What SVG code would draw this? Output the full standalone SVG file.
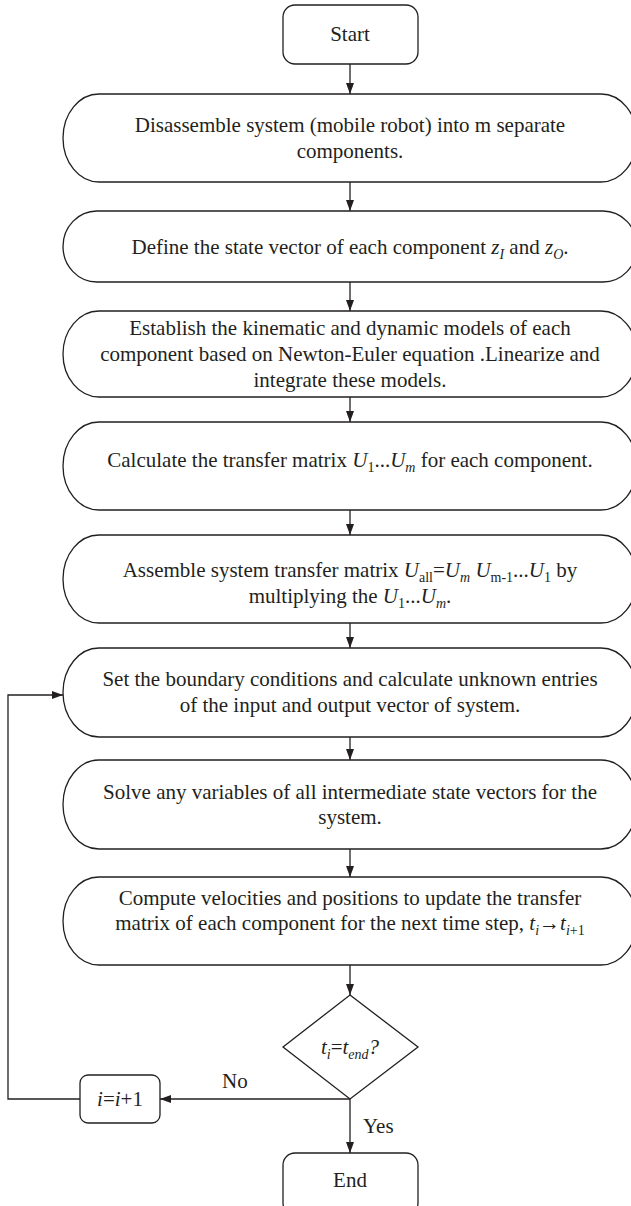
<svg xmlns="http://www.w3.org/2000/svg" width="631" height="1206" viewBox="0 0 631 1206">
<defs>
<style>
.box{fill:#fff;stroke:#231f20;stroke-width:1.3}
.ln{fill:none;stroke:#231f20;stroke-width:1.3}
text{font-family:"Liberation Serif","Times New Roman",serif;font-size:21px;fill:#231f20;text-anchor:middle}
.it{font-style:italic}
.sb{font-size:14px}
.st{text-anchor:start}
</style>
<marker id="ah" markerUnits="userSpaceOnUse" markerWidth="12" markerHeight="8" refX="11" refY="4" orient="auto">
<path d="M0,0 L11,4 L0,8 z" fill="#231f20"/>
</marker>
</defs>
<rect width="631" height="1206" fill="#fff"/>

<g id="connectors">
<line class="ln" x1="350" y1="64" x2="350" y2="94" marker-end="url(#ah)"/>
<line class="ln" x1="350" y1="182" x2="350" y2="211" marker-end="url(#ah)"/>
<line class="ln" x1="350" y1="282" x2="350" y2="311" marker-end="url(#ah)"/>
<line class="ln" x1="350" y1="397" x2="350" y2="422" marker-end="url(#ah)"/>
<line class="ln" x1="350" y1="510" x2="350" y2="535" marker-end="url(#ah)"/>
<line class="ln" x1="350" y1="623" x2="350" y2="648" marker-end="url(#ah)"/>
<line class="ln" x1="350" y1="737" x2="350" y2="760" marker-end="url(#ah)"/>
<line class="ln" x1="350" y1="849" x2="350" y2="877" marker-end="url(#ah)"/>
<line class="ln" x1="350" y1="965" x2="350" y2="995" marker-end="url(#ah)"/>
<line class="ln" x1="350" y1="1099" x2="350" y2="1153" marker-end="url(#ah)"/>
<line class="ln" x1="350" y1="1099" x2="160" y2="1099" marker-end="url(#ah)"/>
<polyline class="ln" points="80,1099 8,1099 8,695 63,695" marker-end="url(#ah)"/>
<text class="st" x="222" y="1088">No</text>
<text class="st" x="363" y="1133">Yes</text>
</g>

<g id="start">
<rect class="box" x="283" y="5" width="135" height="59" rx="12"/>
<text x="350" y="41">Start</text>
</g>

<g id="disassemble">
<rect class="box" x="63" y="94" width="574" height="88" rx="36" ry="44"/>
<text x="350" y="132">Disassemble system (mobile robot) into m separate</text>
<text x="350" y="158">components.</text>
</g>

<g id="define">
<rect class="box" x="63" y="211" width="574" height="71" rx="34" ry="35.5"/>
<text x="350" y="254">Define the state vector of each component <tspan class="it">z</tspan><tspan class="it sb" dy="5">I</tspan><tspan dy="-5"> and </tspan><tspan class="it">z</tspan><tspan class="it sb" dy="5">O</tspan><tspan dy="-5">.</tspan></text>
</g>

<g id="establish">
<rect class="box" x="63" y="311" width="574" height="86" rx="36" ry="43"/>
<text x="350" y="335">Establish the kinematic and dynamic models of each</text>
<text x="350" y="361">component based on Newton-Euler equation .Linearize and</text>
<text x="350" y="387">integrate these models.</text>
</g>

<g id="calculate">
<rect class="box" x="63" y="422" width="574" height="88" rx="36" ry="44"/>
<text x="350" y="467">Calculate the transfer matrix <tspan class="it">U</tspan><tspan class="sb" dy="5">1</tspan><tspan dy="-5">...</tspan><tspan class="it">U</tspan><tspan class="it sb" dy="5">m</tspan><tspan dy="-5"> for each component.</tspan></text>
</g>

<g id="assemble">
<rect class="box" x="63" y="535" width="574" height="88" rx="36" ry="44"/>
<text x="350" y="577">Assemble system transfer matrix <tspan class="it">U</tspan><tspan class="sb" dy="5">all</tspan><tspan dy="-5">=</tspan><tspan class="it">U</tspan><tspan class="it sb" dy="5">m</tspan><tspan dy="-5"> </tspan><tspan class="it">U</tspan><tspan class="sb" dy="5">m-1</tspan><tspan dy="-5">...</tspan><tspan class="it">U</tspan><tspan class="sb" dy="5">1</tspan><tspan dy="-5"> by</tspan></text>
<text x="350" y="603">multiplying the <tspan class="it">U</tspan><tspan class="sb" dy="5">1</tspan><tspan dy="-5">...</tspan><tspan class="it">U</tspan><tspan class="it sb" dy="5">m</tspan><tspan dy="-5">.</tspan></text>
</g>

<g id="boundary">
<rect class="box" x="63" y="648" width="574" height="89" rx="36" ry="44.5"/>
<text x="350" y="686">Set the boundary conditions and calculate unknown entries</text>
<text x="350" y="712">of the input and output vector of system.</text>
</g>

<g id="solve">
<rect class="box" x="63" y="760" width="574" height="89" rx="36" ry="44.5"/>
<text x="350" y="799">Solve any variables of all intermediate state vectors for the</text>
<text x="350" y="824">system.</text>
</g>

<g id="compute">
<rect class="box" x="63" y="877" width="574" height="88" rx="36" ry="44"/>
<text x="350" y="905">Compute velocities and positions to update the transfer</text>
<text x="350" y="930">matrix of each component for the next time step, <tspan class="it">t</tspan><tspan class="it sb" dy="5">i</tspan><tspan dy="-5">→</tspan><tspan class="it">t</tspan><tspan class="sb" dy="5"><tspan class="it">i</tspan>+1</tspan></text>
</g>

<g id="decision">
<polygon class="box" points="350,995 418,1047 350,1099 283,1047"/>
<text x="350" y="1054"><tspan class="it">t</tspan><tspan class="it sb" dy="5">i</tspan><tspan dy="-5">=</tspan><tspan class="it">t</tspan><tspan class="it sb" dy="5">end</tspan><tspan class="it" dy="-5">?</tspan></text>
</g>

<g id="increment">
<rect class="box" x="80" y="1075" width="80" height="48" rx="8"/>
<text x="120" y="1106"><tspan class="it">i</tspan>=<tspan class="it">i</tspan>+1</text>
</g>

<g id="end">
<rect class="box" x="283" y="1153" width="135" height="62" rx="12"/>
<text x="350" y="1187">End</text>
</g>
</svg>
